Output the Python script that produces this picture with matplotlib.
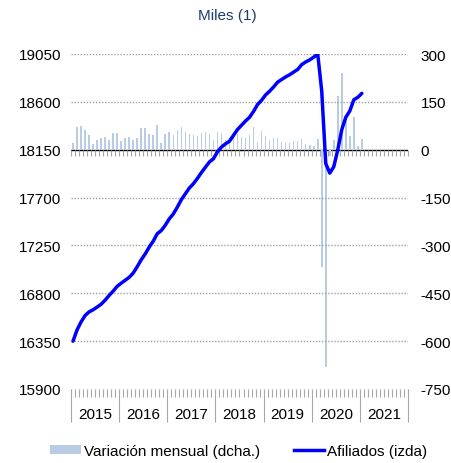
import numpy as np
import matplotlib.pyplot as plt
from matplotlib.patches import Patch
from matplotlib.lines import Line2D

plt.rcParams["font.family"] = ["Liberation Sans", "DejaVu Sans"]
plt.rcParams["font.size"] = 11
plt.rcParams["axes.unicode_minus"] = False

# Afiliados a la Seguridad Social, miles (ene-2015 .. ene-2021)
afiliados = [
    16350, 16455, 16530, 16590, 16625, 16645, 16670, 16697, 16735, 16780, 16820, 16865,
    16895, 16922, 16950, 16990, 17050, 17115, 17170, 17235, 17290, 17360, 17390, 17440,
    17500, 17546, 17610, 17680, 17735, 17790, 17830, 17880, 17935, 17985, 18035, 18065,
    18130, 18175, 18205, 18230, 18285, 18340, 18380, 18420, 18455, 18510, 18575, 18615,
    18665, 18700, 18740, 18785, 18810, 18835, 18855, 18880, 18905, 18950, 18975, 18995,
    19020, 19050, 18700, 18020, 17930, 17990, 18150, 18340, 18455, 18515, 18620, 18643,
    18680,
]
# Variacion mensual, miles
variacion = [
    22, 70, 73, 62, 47, 19, 32, 36, 41, 29, 51, 51,
    28, 36, 41, 32, 37, 67, 67, 50, 46, 78, 22, 50,
    56, 47, 61, 72, 56, 50, 45, 44, 53, 54, 49, 32,
    55, 51, 30, 30, 50, 50, 41, 37, 47, 72, 25, 58,
    44, 30, 36, 36, 25, 22, 20, 27, 27, 33, 18, 16,
    13, 34, -368, -681, -20, 30, 168, 239, 100, 44, 102, 12,
    33,
]
years = ["2015", "2016", "2017", "2018", "2019", "2020", "2021"]

x = np.arange(len(afiliados)) + 0.5
n_months = 12 * len(years)

fig = plt.figure(figsize=(4.52, 4.64), dpi=100)
ax = fig.add_axes([71 / 452, 1 - 390 / 464, 337 / 452, 335 / 464])
ax2 = ax.twinx()

# bars on right axis
ax2.bar(x, variacion, width=0.4, color="#B8CCE4", zorder=2)
ax2.axhline(0, color="black", lw=1.0, zorder=1)
ax2.set_ylim(-750, 300)
ax2.set_yticks(np.arange(-750, 301, 150))

# line on left axis, drawn above bars
ax.set_zorder(ax2.get_zorder() + 1)
ax.patch.set_visible(False)
ax.plot(x, afiliados, color="#0000FF", lw=2.5, solid_capstyle="round", zorder=3)
ax.set_ylim(15900, 19050)
ax.set_yticks(np.arange(15900, 19051, 450))
for v in np.arange(16350, 19051, 450):
    if v != 18150:
        ax.axhline(v, color="#A0A0A0", lw=1.0, ls=(0, (1, 1.2)), zorder=0)

ax.set_xlim(0, n_months)
for a in (ax, ax2):
    for s in a.spines.values():
        s.set_visible(False)
ax.tick_params(axis="y", length=0, pad=7)
ax2.tick_params(axis="y", length=0, pad=9)
for lbl in ax2.get_yticklabels():
    lbl.set_horizontalalignment("left")

# bottom category axis: year separators + monthly ticks
ax.set_xticks(np.arange(0, n_months + 1, 12))
ax.set_xticklabels([])
ax.set_xticks(np.arange(0, n_months + 1, 1), minor=True)
ax.tick_params(axis="x", which="major", length=24, color="#A6A6A6", width=0.8)
ax.tick_params(axis="x", which="minor", length=6, color="#A6A6A6", width=0.8)

sec = ax.secondary_xaxis("bottom")
sec.set_xticks(np.arange(6, n_months, 12))
sec.set_xticklabels(years)
sec.tick_params(axis="x", length=0, pad=13)
sec.spines["bottom"].set_visible(False)

# monthly ticks hanging below the zero line
zero_frac = (18150 - 15900) / (19050 - 15900)
sec0 = ax.secondary_xaxis(zero_frac)
sec0.set_alignment("bottom")
sec0.set_xticks(np.arange(0, n_months + 1, 1))
sec0.set_xticklabels([])
sec0.tick_params(axis="x", direction="out", length=4, color="#A6A6A6", width=0.8)
for s in sec0.spines.values():
    s.set_visible(False)

fig.text(227 / 452, 1 - 16 / 464, "Miles (1)", ha="center", va="center",
         color="#1F3A6E", fontsize=11)

handles = [
    Patch(facecolor="#B8CCE4", edgecolor="none", label="Variación mensual (dcha.)"),
    Line2D([], [], color="#0000FF", lw=2.5, label="Afiliados (izda)"),
]
fig.legend(handles=handles, loc="center", bbox_to_anchor=(239 / 452, 1 - 452 / 464),
           ncol=2, frameon=False, handlelength=2.0, handleheight=0.55,
           handletextpad=0.2, columnspacing=2.2)

fig.savefig("out.png", dpi=100)
